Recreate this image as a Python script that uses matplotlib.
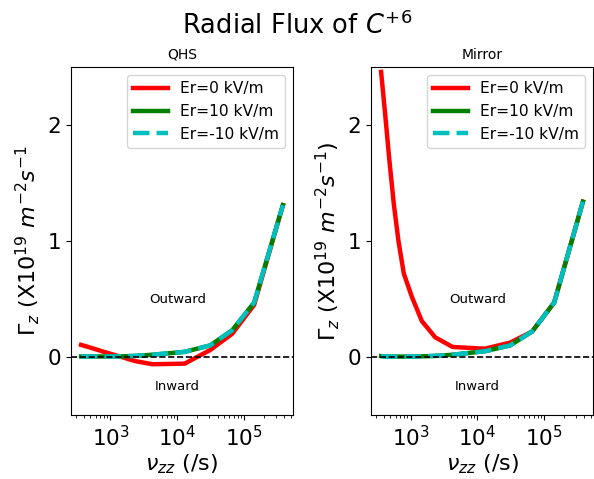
import numpy as np
import matplotlib
matplotlib.use("Agg")
import matplotlib.pyplot as plt

# collision frequency (/s)
nu = 10 ** np.array([2.56, 2.62, 2.68, 2.75, 2.82, 2.90, 3.02, 3.17, 3.37, 3.63,
                     4.11, 4.49, 4.82, 5.15, 5.58])

# QHS fluxes (x10^19 m^-2 s^-1)
qhs_er0 = [0.105, 0.095, 0.085, 0.072, 0.06, 0.045, 0.025, 0.0, -0.035, -0.062,
           -0.057, 0.06, 0.2, 0.45, 1.31]
qhs_er10 = [0.005, 0.005, 0.005, 0.005, 0.005, 0.005, 0.005, 0.006, 0.01, 0.02,
            0.045, 0.1, 0.23, 0.47, 1.31]
qhs_erm10 = [0.005, 0.005, 0.005, 0.005, 0.005, 0.005, 0.005, 0.006, 0.01, 0.02,
             0.045, 0.1, 0.23, 0.47, 1.31]

# Mirror fluxes
mir_er0 = [2.46, 2.10, 1.72, 1.32, 1.0, 0.72, 0.52, 0.31, 0.17, 0.087,
           0.072, 0.124, 0.22, 0.47, 1.34]
mir_er10 = [0.008, 0.005, 0.004, 0.004, 0.004, 0.004, 0.005, 0.006, 0.01, 0.02,
            0.05, 0.1, 0.22, 0.47, 1.34]
mir_erm10 = [0.008, 0.005, 0.004, 0.004, 0.004, 0.004, 0.005, 0.006, 0.01, 0.02,
             0.05, 0.1, 0.22, 0.47, 1.34]

fig = plt.figure(figsize=(5.94, 4.79), dpi=100)
ax1 = fig.add_axes([0.1195, 0.1336, 0.3737, 0.726])
ax2 = fig.add_axes([0.6246, 0.1336, 0.3737, 0.726])

panels = [(ax1, "QHS", qhs_er0, qhs_er10, qhs_erm10, ""),
          (ax2, "Mirror", mir_er0, mir_er10, mir_erm10, ")")]

for ax, name, y0, y10, ym10, close in panels:
    ax.plot(nu, y0, "r", lw=3.2, label="Er=0 kV/m")
    ax.plot(nu, y10, "g", lw=3.2, label="Er=10 kV/m")
    ax.plot(nu, ym10, "c--", lw=3.2, label="Er=-10 kV/m")
    ax.axhline(0, color="k", ls="--", lw=1.2)
    ax.set_xscale("log")
    ax.set_ylim(-0.5, 2.5)
    ax.set_yticks([0, 1, 2])
    ax.tick_params(labelsize=15.5)
    ax.set_title(name, fontsize=10)
    ax.set_xlabel(r"$\nu_{zz}$ (/s)", fontsize=16, labelpad=2)
    ax.set_ylabel(r"$\Gamma_z$ (X10$^{19}$ $m^{-2}s^{-1}$" + close, fontsize=16)
    ax.text(1e4, 0.5, "Outward", ha="center", va="center", fontsize=9.5)
    ax.text(1e4, -0.25, "Inward", ha="center", va="center", fontsize=9.5)
    ax.legend(loc="upper right", fontsize=11.2, handlelength=2.2)

fig.suptitle(r"Radial Flux of $C^{+6}$", fontsize=18.5, y=0.975)

fig.savefig("out.png", dpi=100)
